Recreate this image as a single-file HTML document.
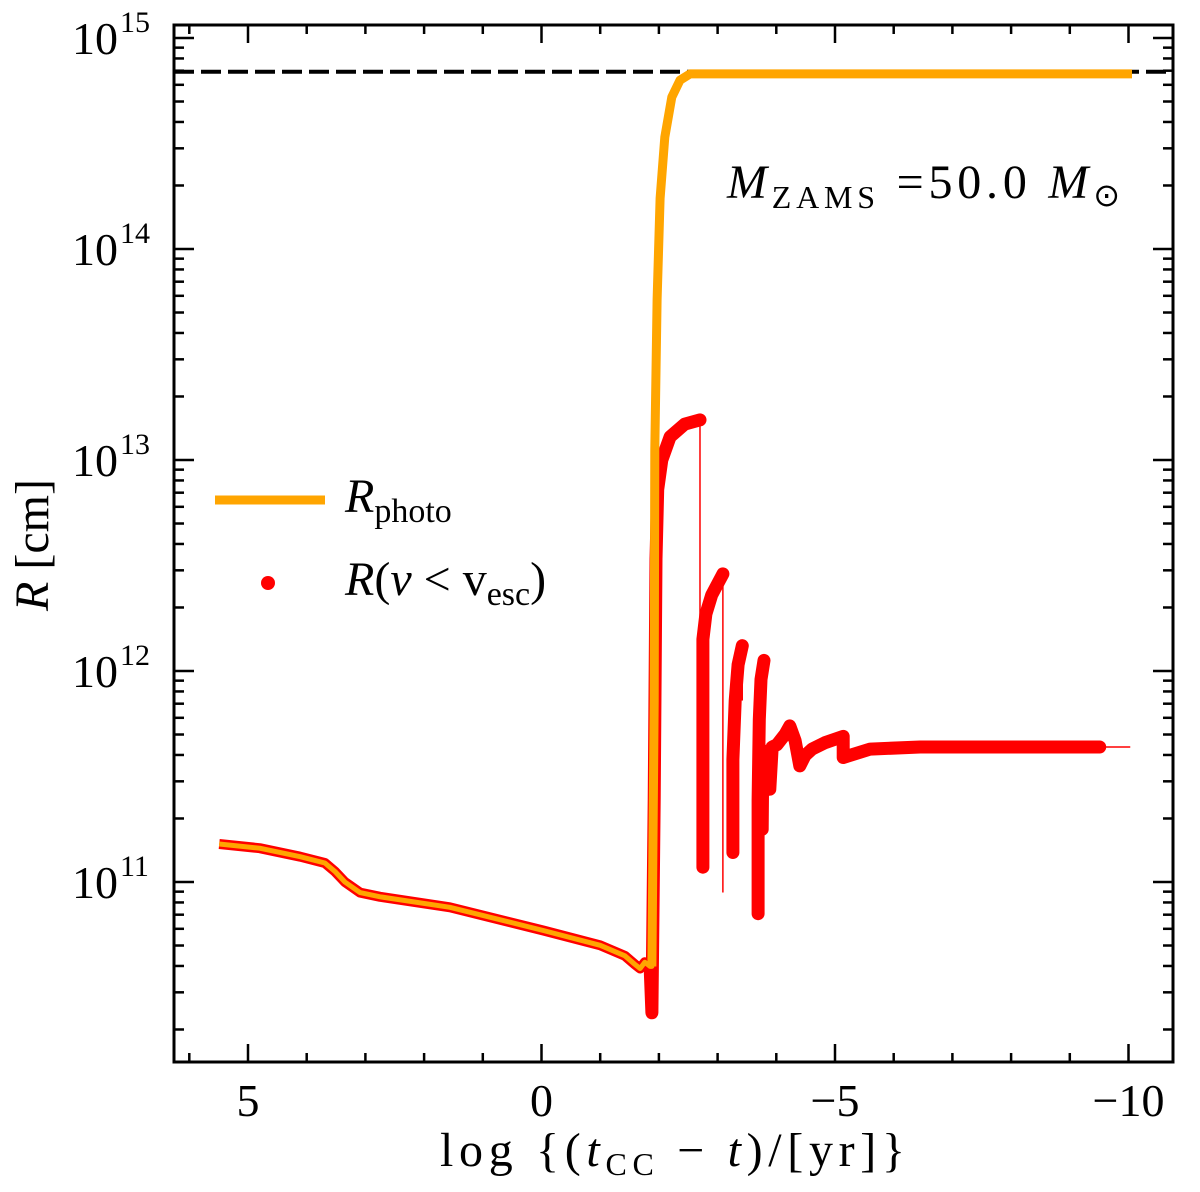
<!DOCTYPE html>
<html><head><meta charset="utf-8"><style>
body{margin:0;background:#fff;}
svg text{font-family:"Liberation Serif",serif;fill:#000;}
</style></head><body>
<svg id="chart" width="1200" height="1187" viewBox="0 0 1200 1187" xmlns="http://www.w3.org/2000/svg"></svg>
<script>
// ---- data (x = log time to collapse, y = log10 R [cm]) ----
const photoX = [5.49,4.80,4.11,3.69,3.52,3.35,3.09,2.75,1.56,-0.03,-1.00,-1.42,-1.59,-1.68,-1.76,-1.85,-1.88,-1.92,-1.93,-1.97,-2.02,-2.10,-2.22,-2.36,-2.53,-10.06];
const photoY = [11.18,11.16,11.12,11.09,11.05,11.00,10.95,10.93,10.88,10.77,10.70,10.65,10.61,10.59,10.62,10.60,10.60,11.86,13.05,13.76,14.24,14.53,14.72,14.80,14.83,14.83];
const lowX = photoX.slice(0,16);
const lowY = photoY.slice(0,16);
const upX = [-1.85,-1.88,-1.92,-1.95,-1.98,-2.05,-2.19,-2.44,-2.70];
const upY = [10.60,10.38,11.39,12.53,12.86,13.00,13.11,13.17,13.19];
const b2X = [-2.75,-2.75,-2.80,-2.90,-3.09];
const b2Y = [11.07,12.15,12.27,12.36,12.46];
const b3X = [-3.26,-3.26,-3.30,-3.35,-3.42];
const b3Y = [11.14,11.58,11.86,12.03,12.12];
const b4X = [-3.69,-3.69,-3.71,-3.74,-3.79];
const b4Y = [10.85,11.39,11.77,11.96,12.05];
const tailX = [-3.76,-3.77,-3.84,-3.89,-3.93,-4.01,-4.15,-4.23,-4.32,-4.40,-4.49,-4.61,-4.83,-5.14,-5.14,-5.60,-6.45,-7.81,-9.51];
const tailY = [11.25,11.58,11.62,11.44,11.64,11.65,11.70,11.74,11.67,11.55,11.60,11.63,11.66,11.69,11.59,11.63,11.64,11.64,11.64];
const thinX = [-2.70,-2.70,-3.09,-3.09,-3.42,-3.42,-3.79,-3.76,-9.51,-10.03];
const thinY = [13.19,12.14,12.46,10.95,12.12,11.86,12.05,11.10,11.64,11.64];
const limitY = 14.84;
const xTicks = [5,0,-5,-10];
const xTickLabels = ["5","0","\u22125","\u221210"];
const yTicks = [11,12,13,14,15];

const L=174,R=1173,T=25,B=1062;
const sx = v => 248 + (5 - v)*58.7;
const sy = v => 882 - (v - 11)*211;
const svg = document.getElementById('chart');
const NS='http://www.w3.org/2000/svg';
function mk(tag, attrs){const e=document.createElementNS(NS,tag);for(const k in attrs)e.setAttribute(k,attrs[k]);svg.appendChild(e);return e;}
function pts(xs,ys){return xs.map((x,i)=>sx(x).toFixed(1)+','+sy(ys[i]).toFixed(1)).join(' ');}

let e;
e=mk('line',{x1:L,x2:R,y1:sy(limitY),y2:sy(limitY),stroke:'#000','stroke-width':4,'stroke-dasharray':'20,7'});



[[upX,upY],[b2X,b2Y],[b3X,b3Y],[b4X,b4Y],[tailX,tailY]].forEach((s,i)=>{
  const p=mk('polyline',{points:pts(s[0],s[1]),fill:'none',stroke:'#ff0000','stroke-width':13,'stroke-linecap':'round','stroke-linejoin':'round'});
  
  
});
for(let i=0;i<thinX.length;i+=2){
  const p=mk('line',{x1:sx(thinX[i]),y1:sy(thinY[i]),x2:sx(thinX[i+1]),y2:sy(thinY[i+1]),stroke:'#ff0000','stroke-width':1.5});
  
  
}
e=mk('polyline',{points:pts(lowX,lowY),fill:'none',stroke:'#ff0000','stroke-width':10,'stroke-linejoin':'round'});


e=mk('polyline',{points:pts(photoX,photoY),fill:'none',stroke:'#ffa500','stroke-width':5,'stroke-linejoin':'round'});


const hiX=photoX.slice(16), hiY=photoY.slice(16);
e=mk('polyline',{points:pts(hiX,hiY),fill:'none',stroke:'#ffa500','stroke-width':9,'stroke-linejoin':'round'});



e=mk('rect',{x:L,y:T,width:R-L,height:B-T,fill:'none',stroke:'#000','stroke-width':3});



for(let v=6;v>=-10;v--){
  const X=sx(v); const len=(v%5===0)?18:9;
  mk('line',{x1:X,x2:X,y1:B,y2:B-len,stroke:'#000','stroke-width':2.5});
  mk('line',{x1:X,x2:X,y1:T,y2:T+len,stroke:'#000','stroke-width':2.5});
}
xTicks.forEach((v,i)=>{
  const t=mk('text',{x:sx(v),y:1116,'font-size':46,'text-anchor':'middle'});
  t.textContent=xTickLabels[i];
  
  
});
for(let d=10;d<=15;d++){
  for(let m=1;m<10;m++){
    const lv=d+Math.log10(m); const Y=sy(lv);
    if(Y<T-1||Y>B+1) continue;
    const len=m===1?20:10;
    mk('line',{x1:L,x2:L+len,y1:Y,y2:Y,stroke:'#000','stroke-width':2.5});
    mk('line',{x1:R,x2:R-len,y1:Y,y2:Y,stroke:'#000','stroke-width':2.5});
  }
}
yTicks.forEach(v=>{
  const t=mk('text',{x:118,y:sy(v)+16,'font-size':46,'text-anchor':'end'});
  t.textContent='10';
  
  
  const s=mk('text',{x:120,y:sy(v)-6,'font-size':30});
  s.textContent=String(v);
});
</script>
<svg style="position:absolute;left:0;top:0" width="1200" height="1187">
 <g font-family="Liberation Serif, serif">
  <text transform="translate(48,545) rotate(-90)" font-size="48" text-anchor="middle"><tspan font-style="italic">R</tspan> [cm]</text>
  <text x="440" y="1166" font-size="48" textLength="465" lengthAdjust="spacing">log  {(<tspan font-style="italic">t</tspan><tspan font-size="32" dy="9">CC</tspan><tspan dy="-9"> − </tspan><tspan font-style="italic">t</tspan>)/[yr]}</text>
  <text x="727" y="198" font-size="48" textLength="393" lengthAdjust="spacing"><tspan font-style="italic">M</tspan><tspan font-size="32" dy="10">ZAMS</tspan><tspan dy="-10"> =50.0 </tspan><tspan font-style="italic">M</tspan><tspan font-size="32" dy="8">⊙</tspan></text>
  <line x1="215" x2="325" y1="500" y2="500" stroke="#ffa500" stroke-width="9"/>
  <text x="345" y="512" font-size="48"><tspan font-style="italic">R</tspan><tspan font-size="34" dy="10">photo</tspan></text>
  <circle cx="268" cy="583" r="7" fill="#ff0000"/>
  <text x="345" y="595" font-size="48"><tspan font-style="italic">R</tspan>(<tspan font-style="italic">v</tspan> &lt; v<tspan font-size="34" dy="10">esc</tspan><tspan dy="-10">)</tspan></text>
 </g>
</svg>
</body></html>
